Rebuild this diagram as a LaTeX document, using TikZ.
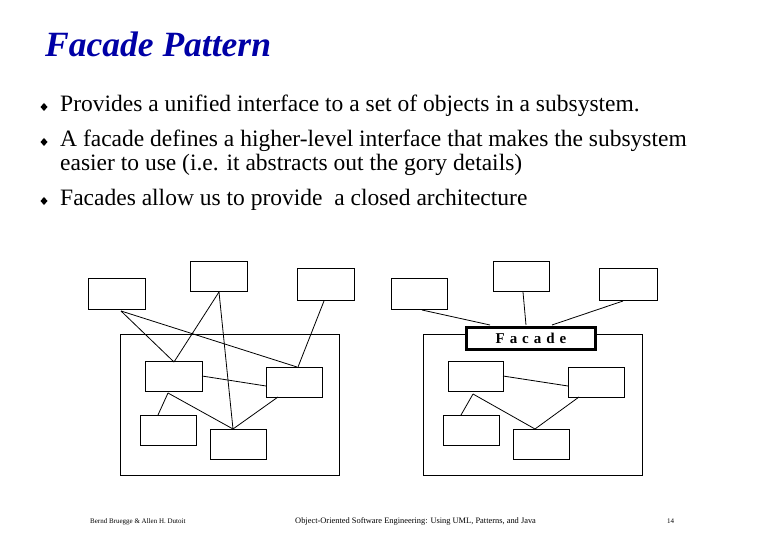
\documentclass[tikz,border=0pt]{standalone}
\usepackage{fontspec}
\setmainfont{Liberation Serif}
\begin{document}
\begin{tikzpicture}[x=1pt,y=-1pt,
  bx/.style={draw,line width=1pt},
  ln/.style={line width=0.8pt},
  txt/.style={anchor=base west,inner sep=0pt,font=\fontsize{23.5}{28}\selectfont},
  foot/.style={anchor=base west,inner sep=0pt,font=\fontsize{7}{8}\selectfont}]
\useasboundingbox (0,0) rectangle (780,540);
\node[anchor=base west,inner sep=0pt,text=blue!65!black,font=\fontsize{35.5}{40}\selectfont\bfseries\itshape] (title) at (45,57) {Facade Pattern};
\foreach \yy/\nm in {112/b1,147/b2,206/b3}{\fill (44,\yy-9) coordinate (\nm) -- ++(3.5,4) -- ++(-3.5,4) -- ++(-3.5,-4) -- cycle;}
\node[txt] (t1) at (60,112) {Provides a unified interface to a set of objects in a subsystem.};
\node[txt] (t2) at (60,147) {A facade defines a higher-level interface that makes the subsystem};
\node[txt] (t3) at (60,171) {easier to use (i.e. it abstracts out the gory details)};
\node[txt] (t4) at (60,206) {Facades allow us to provide\ \ a closed architecture};
% left
\draw[bx] (120,335) rectangle (339,475);
\draw[bx] (88,279) rectangle (145,310);
\draw[bx] (190,262) rectangle (247,292);
\draw[bx] (297,269) rectangle (354,301);
\draw[bx] (145,362) rectangle (202,392);
\draw[bx] (266,368) rectangle (322,397);
\draw[bx] (140,415) rectangle (196,445);
\draw[bx] (210,429) rectangle (266,459);
\draw[ln] (121,311)--(174,362); \draw[ln] (121,311)--(297,367);
\draw[ln] (219,292)--(174,362); \draw[ln] (219,292)--(233,429);
\draw[ln] (324,301)--(298,367); \draw[ln] (202,376)--(266,386);
\draw[ln] (168,393)--(158,415); \draw[ln] (168,393)--(233,429);
\draw[ln] (278,397)--(233,429);
% right
\draw[bx] (423,335) rectangle (642,475);
\draw[bx] (391,279) rectangle (447,310);
\draw[bx] (493,262) rectangle (549,292);
\draw[bx] (599,269) rectangle (657,301);
\node[draw,line width=3pt,fill=white,minimum width=129pt,minimum height=22pt,font=\fontsize{15}{17}\selectfont\bfseries] (fac) at (531,338.5) {F\,\,a\,\,c\,\,a\,\,d\,\,e};
\draw[bx] (448,362) rectangle (503,392);
\draw[bx] (568,368) rectangle (624,397);
\draw[bx] (443,415) rectangle (499,445);
\draw[bx] (513,429) rectangle (569,459);
\draw[ln] (422,310)--(490,325); \draw[ln] (523,292)--(526,325);
\draw[ln] (623,301)--(552,325); \draw[ln] (503,376)--(568,386);
\draw[ln] (473,394)--(461,415); \draw[ln] (473,394)--(535,429);
\draw[ln] (579,397)--(535,429);
% footer
\node[foot] (f1) at (90,523) {Bernd Bruegge \& Allen H. Dutoit};
\node[foot,font=\fontsize{8.4}{9}\selectfont] (f2) at (295,523) {Object-Oriented Software Engineering: Using UML, Patterns, and Java};
\node[foot] (f3) at (667,523) {14};
\end{tikzpicture}
\end{document}
